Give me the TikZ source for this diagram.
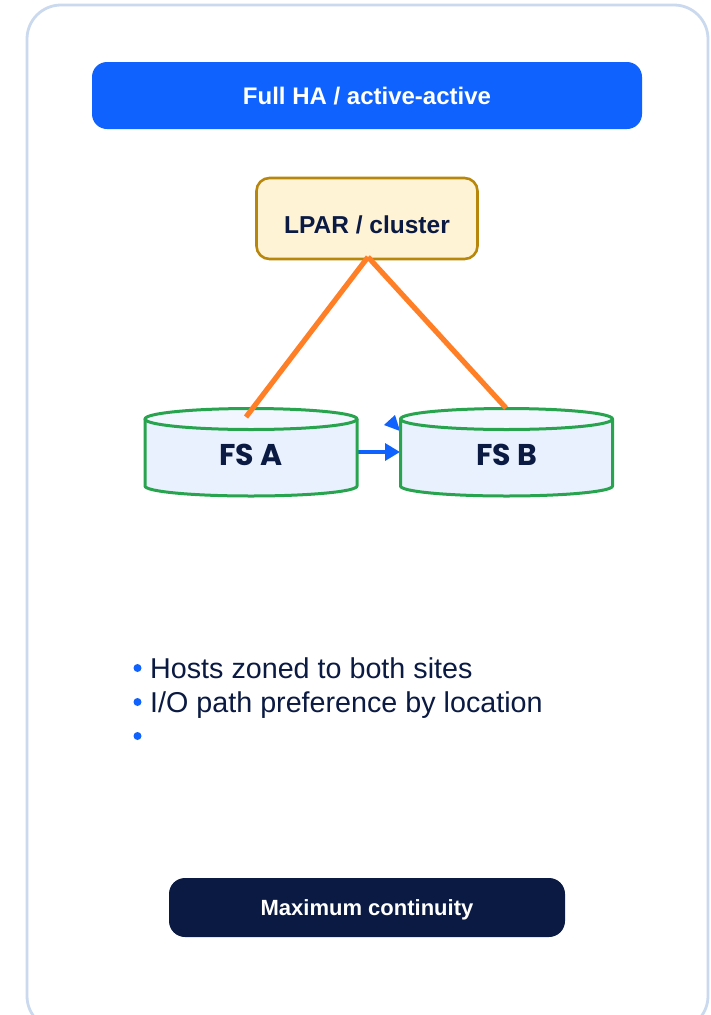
\documentclass[tikz,border=0pt]{standalone}
\usepackage{fontspec}
\setmainfont{Liberation Sans}
\newfontfamily\fsfont{Poppins}
\usetikzlibrary{arrows.meta}
\definecolor{cardline}{HTML}{CBD9EF}
\definecolor{headblue}{HTML}{0F62FE}
\definecolor{navy}{HTML}{0B1A42}
\definecolor{cream}{HTML}{FFF3D6}
\definecolor{gold}{HTML}{B8860B}
\definecolor{fsgreen}{HTML}{28A44F}
\definecolor{fsbody}{HTML}{E8F1FD}
\definecolor{fstop}{HTML}{F1F6FF}
\definecolor{linkorange}{HTML}{FF7F27}
\tikzset{
  bar/.style={anchor=center,inner sep=0pt,outer sep=0pt},
  headbar/.style={bar,fill=headblue,rounded corners=15pt,minimum width=550pt,minimum height=67pt},
  hostbox/.style={bar,draw=gold,line width=2.6pt,fill=cream,rounded corners=13pt,minimum width=221pt,minimum height=81pt},
  footbar/.style={bar,fill=navy,rounded corners=16pt,minimum width=396pt,minimum height=59pt},
  boldlabel/.style={inner sep=0pt,font=\fontsize{24}{28}\selectfont\bfseries},
  fslabel/.style={inner sep=0pt,text=navy,font=\fontsize{30}{34}\fsfont\bfseries},
  bodytext/.style={anchor=base west,inner sep=0pt,text=navy,font=\fontsize{28.7}{33}\selectfont},
  dot/.style={circle,fill=headblue,inner sep=0pt,minimum size=8pt},
  cylline/.style={draw=fsgreen,line width=3pt,line join=round},
  link/.style={linkorange,line width=5.2pt},
  flow/.style={draw=headblue,line width=3.4pt,-{Triangle[length=15pt,width=17pt]},shorten >=0pt},
}
\newcommand{\fscyl}[1]{%
  \path[fill=fsbody,cylline] (#1-106,419) -- (#1-106,486) arc[start angle=180,end angle=0,x radius=106,y radius=10] -- (#1+106,419) -- cycle;
  \path[fill=fstop,cylline] (#1,419) ellipse[x radius=106,y radius=10.5];
}
\begin{document}
\begin{tikzpicture}[x=1pt,y=-1pt]
\useasboundingbox (0,0) rectangle (711,1015);
\begin{scope}
\clip (0,0) rectangle (711,1015);
\draw[cardline,line width=2.8pt,fill=white,rounded corners=34pt] (27,5) rectangle (708,1030);
\end{scope}
\node[headbar] (head) at (367,95.5) {};
\node[boldlabel,text=white] (headlabel) at (367,96) {Full HA / active-active};
\node[hostbox] (host) at (367,218.5) {};
\node[boldlabel,text=navy,font=\fontsize{24.5}{28}\selectfont\bfseries] (hostlabel) at (367,225) {LPAR / cluster};
\coordinate (apex) at (368,257);
\coordinate (fsaout) at (357,452);
\coordinate (fsbin) at (400,452);
\coordinate (backb) at (400,431);
\draw[flow] (fsaout) -- (fsbin);
\fill[headblue] (384,425) -- (395,415) -- (backb) -- cycle;
\fscyl{251}
\fscyl{506.5}
\node[fslabel] (fsa) at (251,455) {FS A};
\node[fslabel] (fsb) at (506.5,455) {FS B};
\coordinate (fsatop) at (246,417);
\coordinate (fsbtop) at (506,408);
\draw[link] (apex) -- (fsatop);
\draw[link] (apex) -- (fsbtop);
\node[dot] (d1) at (137.5,668) {};
\node[dot] (d2) at (137.5,702) {};
\node[dot] (d3) at (137.5,736) {};
\node[bodytext] (t1) at (150,678) {Hosts zoned to both sites};
\node[bodytext] (t2) at (150,712) {I/O path preference by location};
\node[footbar] (foot) at (367,907.5) {};
\node[boldlabel,text=white,font=\fontsize{22}{26}\selectfont\bfseries] (footlabel) at (367,910) {Maximum continuity};
\end{tikzpicture}
\end{document}
